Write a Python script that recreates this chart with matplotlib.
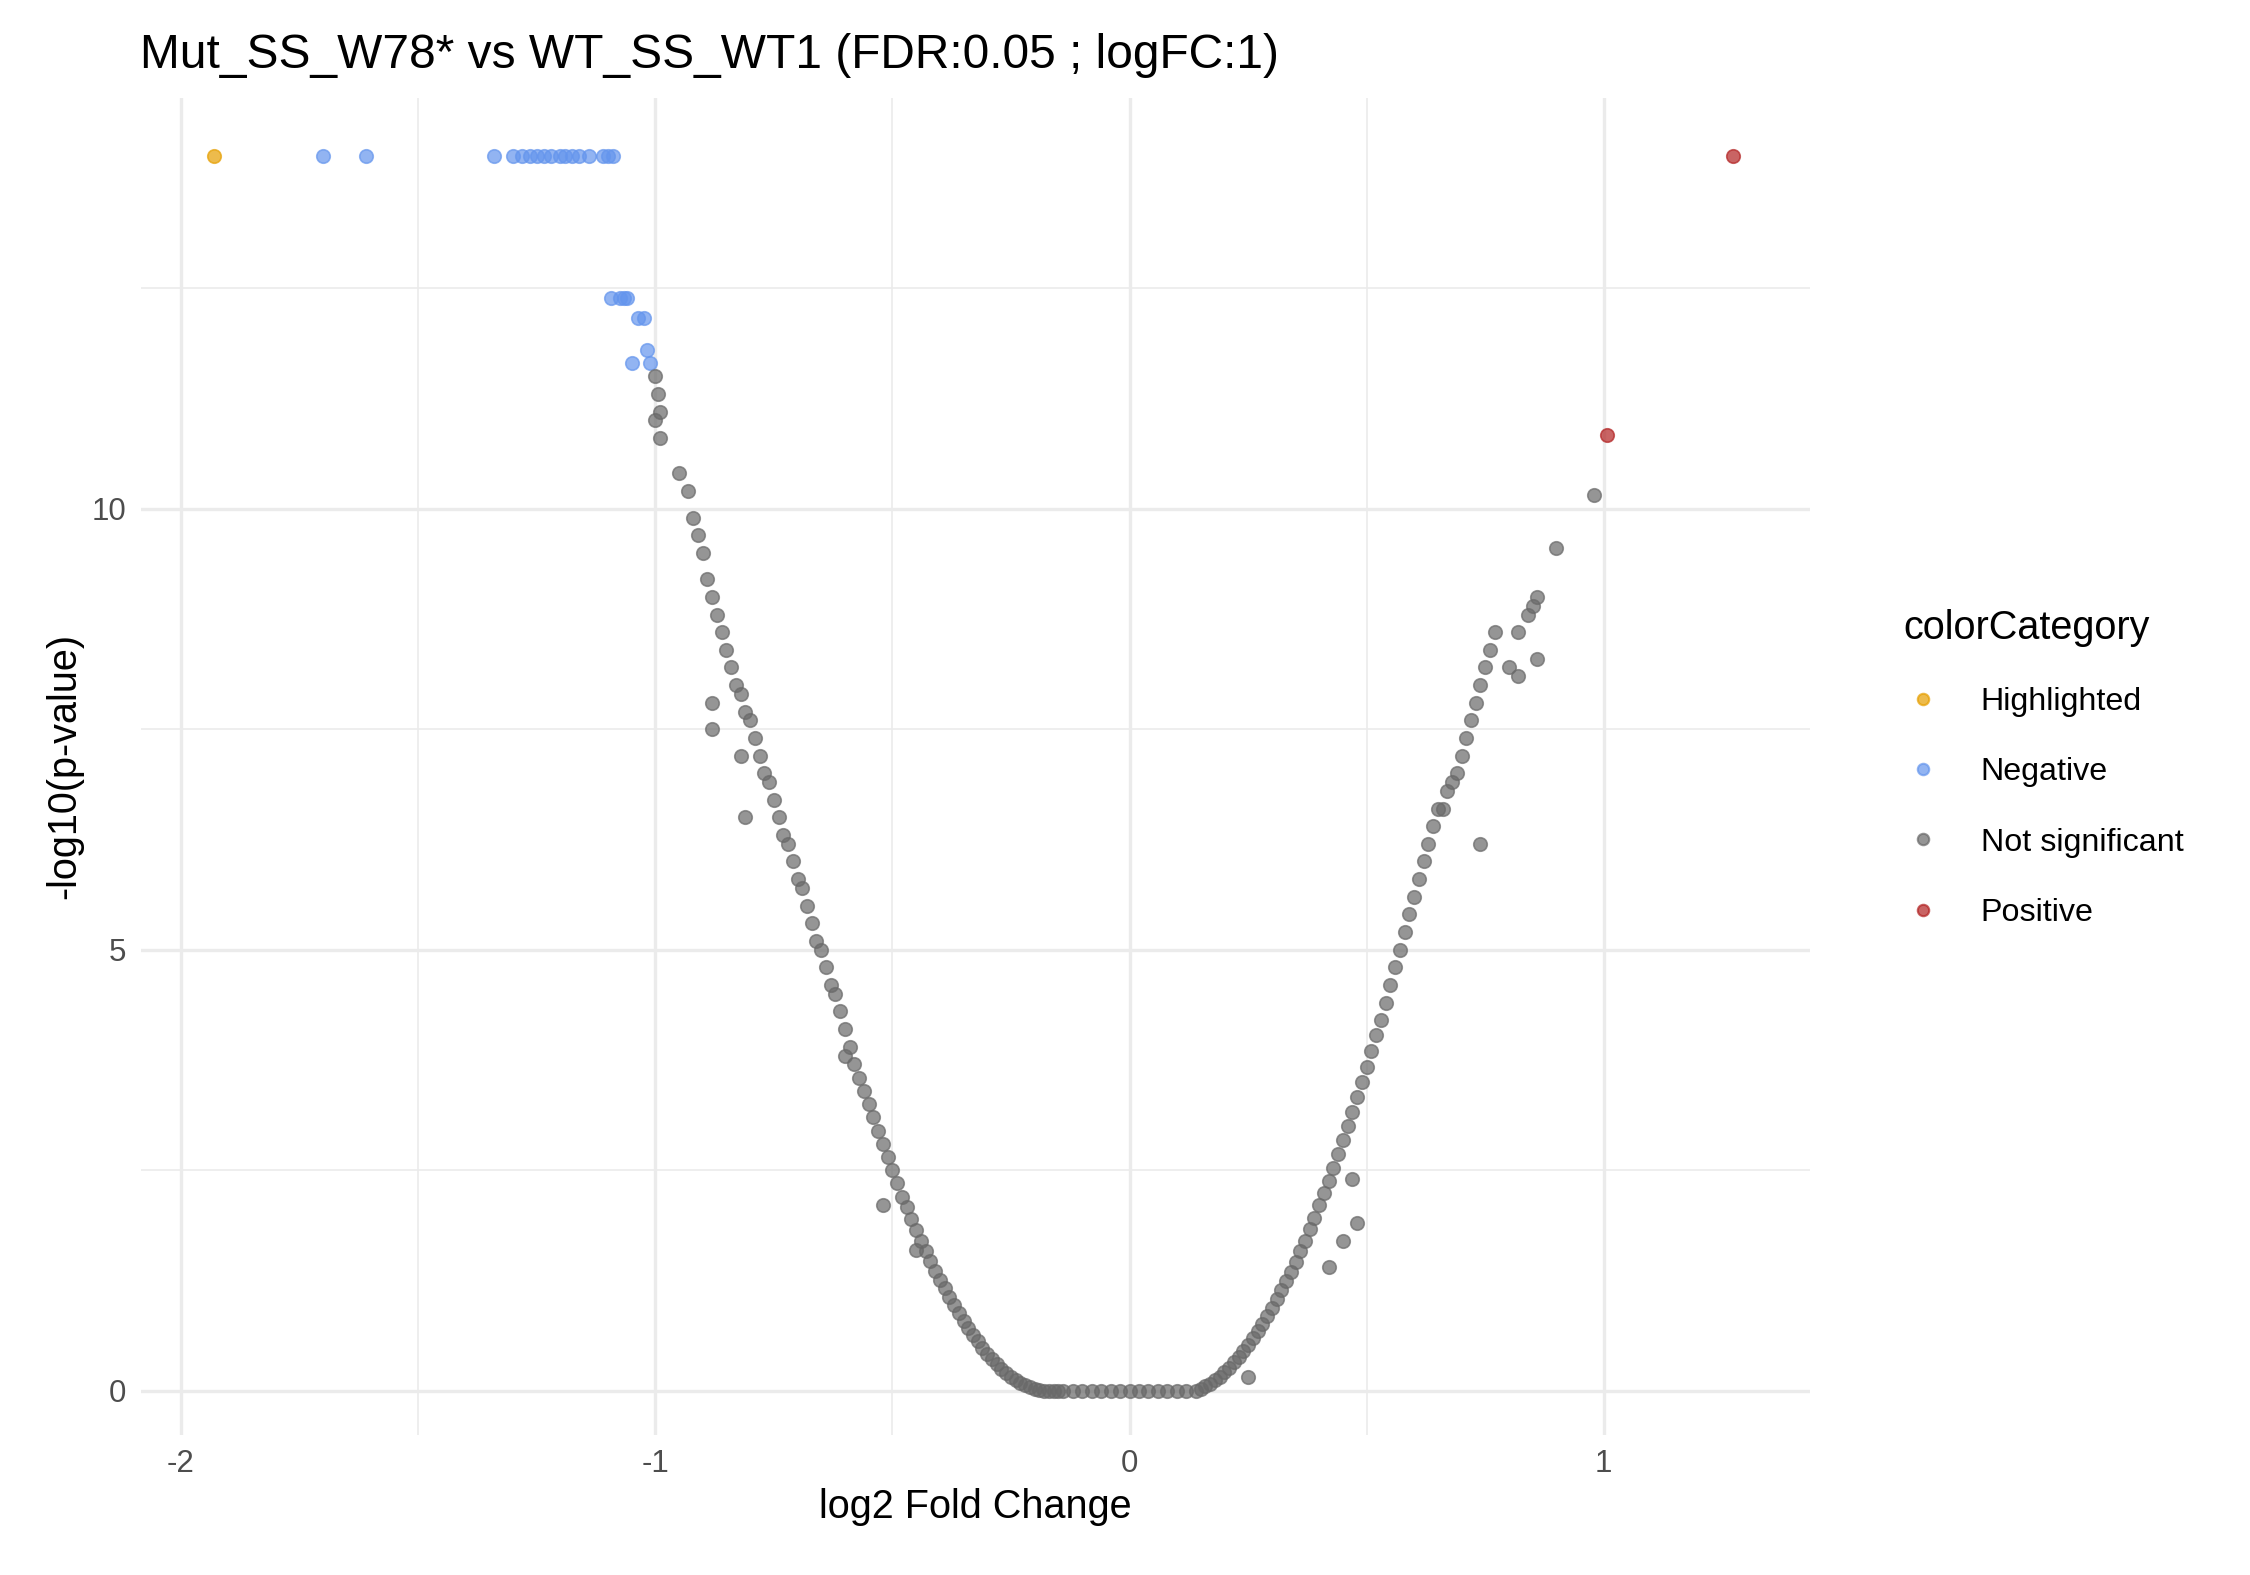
import matplotlib
matplotlib.use("Agg")
import matplotlib.pyplot as plt
from matplotlib.lines import Line2D

plt.rcParams['font.family'] = ['Liberation Sans', 'DejaVu Sans']

# Highlighted
hl_x = [-1.93]
hl_y = [14.0]
# Positive
pos_x = [1.272, 1.006]
pos_y = [14.0, 10.83]
# Negative
neg_x = [-1.70, -1.61, -1.34, -1.30, -1.28, -1.265, -1.25, -1.235, -1.22, -1.20, -1.19, -1.175, -1.16,
         -1.14, -1.11, -1.10, -1.09, -1.094, -1.075, -1.065, -1.06, -1.036, -1.024, -1.018, -1.048, -1.012]
neg_y = [14.0] * 17 + [12.39, 12.39, 12.39, 12.39, 12.16, 12.16, 11.8, 11.65, 11.65]
# Not significant
ns_x = [-1.00, -0.995, -0.99, -1.00, -0.99, -0.95, -0.93, -0.92, -0.91, -0.90, -0.89, -0.88, -0.87, -0.86,
        -0.85, -0.84, -0.83, -0.82, -0.81, -0.80, -0.79, -0.78, -0.77, -0.76, -0.75, -0.74, -0.73, -0.72,
        -0.71, -0.70, -0.69, -0.68, -0.67, -0.66, -0.65, -0.64, -0.63, -0.62, -0.61, -0.60, -0.59, -0.58,
        -0.57, -0.56, -0.55, -0.54, -0.53, -0.52, -0.51, -0.50, -0.49, -0.48, -0.47, -0.46, -0.45, -0.44,
        -0.43, -0.42, -0.41, -0.40, -0.39, -0.38, -0.37, -0.36, -0.35, -0.34, -0.33, -0.32, -0.31, -0.30,
        -0.29, -0.28, -0.27, -0.26, -0.25, -0.24, -0.23, -0.22, -0.21, -0.20, -0.19, -0.18, -0.17, -0.16,
        -0.15, -0.14, -0.12, -0.10, -0.08, -0.06, -0.04, -0.02, 0.0, 0.02, 0.04, 0.06, 0.08, 0.10, 0.12,
        0.14, 0.15, 0.16, 0.17, 0.18, 0.19, 0.20, 0.21, 0.22, 0.23, 0.24, 0.25, 0.26, 0.27, 0.28, 0.29,
        0.30, 0.31, 0.32, 0.33, 0.34, 0.35, 0.36, 0.37, 0.38, 0.39, 0.40, 0.41, 0.42, 0.43, 0.44, 0.45,
        0.46, 0.47, 0.48, 0.49, 0.50, 0.51, 0.52, 0.53, 0.54, 0.55, 0.56, 0.57, 0.58, 0.59, 0.60, 0.61,
        0.62, 0.63, 0.64, 0.65, 0.66, 0.67, 0.68, 0.69, 0.70, 0.71, 0.72, 0.73, 0.74, 0.75, 0.76, 0.77,
        0.80, 0.82, 0.84, 0.85, 0.86, 0.90, 0.98,
        -0.88, -0.88, -0.81, -0.82, -0.52, 0.74, 0.48, 0.47, 0.86, 0.82, 0.45, 0.42, 0.25, -0.45, -0.60]
ns_y = [11.5, 11.3, 11.1, 11.0, 10.8, 10.4, 10.2, 9.9, 9.7, 9.5, 9.2, 9.0, 8.8, 8.6,
        8.4, 8.2, 8.0, 7.9, 7.7, 7.6, 7.4, 7.2, 7.0, 6.9, 6.7, 6.5, 6.3, 6.2,
        6.0, 5.8, 5.7, 5.5, 5.3, 5.1, 5.0, 4.8, 4.6, 4.5, 4.3, 4.1, 3.9, 3.7,
        3.55, 3.4, 3.25, 3.1, 2.95, 2.8, 2.65, 2.5, 2.35, 2.2, 2.08, 1.95, 1.82, 1.7,
        1.58, 1.47, 1.36, 1.26, 1.16, 1.06, 0.97, 0.88, 0.79, 0.71, 0.63, 0.56, 0.49, 0.42,
        0.36, 0.30, 0.25, 0.20, 0.16, 0.12, 0.09, 0.06, 0.04, 0.02, 0.01, 0.0, 0.0, 0.0,
        0.0, 0.0, 0.0, 0.0, 0.0, 0.0, 0.0, 0.0, 0.0, 0.0, 0.0, 0.0, 0.0, 0.0, 0.0,
        0.0, 0.02, 0.05, 0.08, 0.12, 0.16, 0.21, 0.26, 0.32, 0.38, 0.45, 0.52, 0.60, 0.68, 0.76, 0.85,
        0.94, 1.04, 1.14, 1.24, 1.35, 1.46, 1.58, 1.70, 1.83, 1.96, 2.10, 2.24, 2.38, 2.53, 2.68, 2.84,
        3.0, 3.16, 3.33, 3.5, 3.67, 3.85, 4.03, 4.2, 4.4, 4.6, 4.8, 5.0, 5.2, 5.4, 5.6, 5.8,
        6.0, 6.2, 6.4, 6.6, 6.6, 6.8, 6.9, 7.0, 7.2, 7.4, 7.6, 7.8, 8.0, 8.2, 8.4, 8.6,
        8.2, 8.6, 8.8, 8.9, 9.0, 9.55, 10.15,
        7.8, 7.5, 6.5, 7.2, 2.1, 6.2, 1.9, 2.4, 8.3, 8.1, 1.7, 1.4, 0.15, 1.6, 3.8]

fig = plt.figure(figsize=(15, 10.5), dpi=150)
ax = fig.add_axes([0.0625, 0.089, 0.7505 - 0.0085, 0.849])
kw = dict(s=42, alpha=0.7, lw=0.8, zorder=3)
ax.scatter(hl_x, hl_y, color='#E69F00', edgecolor='#E69F00', **kw)
ax.scatter(neg_x, neg_y, color='#6495ED', edgecolor='#6495ED', **kw)
ax.scatter(ns_x, ns_y, color='#696969', edgecolor='#696969', **kw)
ax.scatter(pos_x, pos_y, color='#B22222', edgecolor='#B22222', **kw)

ax.set_xlim(-2.085, 1.435)
ax.set_ylim(-0.5, 14.66)
ax.set_xticks([-2, -1, 0, 1])
ax.set_xticklabels(['-2', '-1', '0', '1'])
ax.set_yticks([0, 5, 10])
ax.set_xticks([-1.5, -0.5, 0.5], minor=True)
ax.set_yticks([2.5, 7.5, 12.5], minor=True)
ax.grid(which='major', color='#EBEBEB', lw=1.6)
ax.grid(which='minor', color='#EBEBEB', lw=0.8)
ax.set_axisbelow(True)
for s in ax.spines.values():
    s.set_visible(False)
ax.tick_params(which='both', length=0, labelsize=15, colors='#4D4D4D', pad=7)
ax.set_xlabel('log2 Fold Change', fontsize=19)
ax.set_ylabel('-log10(p-value)', fontsize=19)
fig.text(0.062, 0.957, 'Mut_SS_W78* vs WT_SS_WT1 (FDR:0.05 ; logFC:1)', fontsize=23, va='baseline')

handles = [Line2D([], [], marker='o', ls='', color=c, alpha=0.7, markersize=5.5)
           for c in ['#E69F00', '#6495ED', '#696969', '#B22222']]
leg = fig.legend(handles, ['Highlighted', 'Negative', 'Not significant', 'Positive'],
                 title='colorCategory', loc='upper left', bbox_to_anchor=(0.833, 0.632),
                 frameon=False, fontsize=15.5, title_fontsize=19, labelspacing=1.25,
                 handletextpad=1.2, handlelength=1.2)
leg._legend_box.align = 'left'
fig.savefig('out.png', dpi=150, facecolor='white')
